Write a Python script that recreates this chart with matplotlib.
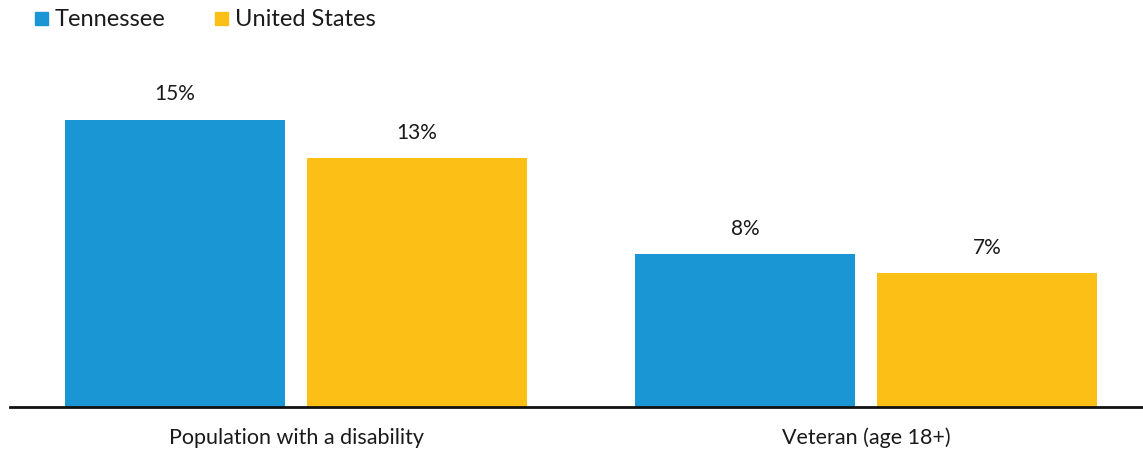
import matplotlib.pyplot as plt
from matplotlib.patches import Rectangle
import numpy as np

plt.rcParams['font.family'] = ['Lato', 'DejaVu Sans']

categories = ["Population with a disability", "Veteran (age 18+)"]
series = ["Tennessee", "United States"]
tennessee = [15, 8]
united_states = [13, 7]
colors = ["#1996d3", "#fcbf15"]

W, H = 1143, 449
fig = plt.figure(figsize=(W / 100, H / 100), dpi=100)
ax = fig.add_axes([10 / W, 42 / H, 1133 / W, 347 / H])

x = np.arange(len(categories))
width = 0.386
offset = 0.212

for vals, off, col in zip([tennessee, united_states], [-offset, offset], colors):
    bars = ax.bar(x + off, vals, width, color=col)
    for b, v in zip(bars, vals):
        ax.annotate(f"{v}%", (b.get_x() + b.get_width() / 2, b.get_height()),
                    xytext=(0, 11), textcoords="offset points",
                    ha="center", va="bottom", fontsize=15, color="#1a1a1a")

ax.set_xlim(-0.5018, 1.486)
ax.set_ylim(0, 18.12)
ax.set_xticks(x)
ax.set_xticklabels(categories, fontsize=15.5, color="#1a1a1a")
ax.tick_params(axis="x", length=0, pad=15)
ax.set_yticks([])
for side in ["top", "right", "left"]:
    ax.spines[side].set_visible(False)
ax.spines["bottom"].set_linewidth(2)
ax.spines["bottom"].set_color("#111111")

# legend drawn by hand: colour square + label
for sx, tx, col, name in [(35, 55, colors[0], series[0]), (215, 235, colors[1], series[1])]:
    fig.add_artist(Rectangle((sx / W, 1 - 25 / H), 13 / W, 13 / H,
                             transform=fig.transFigure, color=col))
    fig.text(tx / W, 1 - 26 / H, name, fontsize=17, color="#1a1a1a",
             ha="left", va="baseline")

fig.savefig("out.png", dpi=100)
